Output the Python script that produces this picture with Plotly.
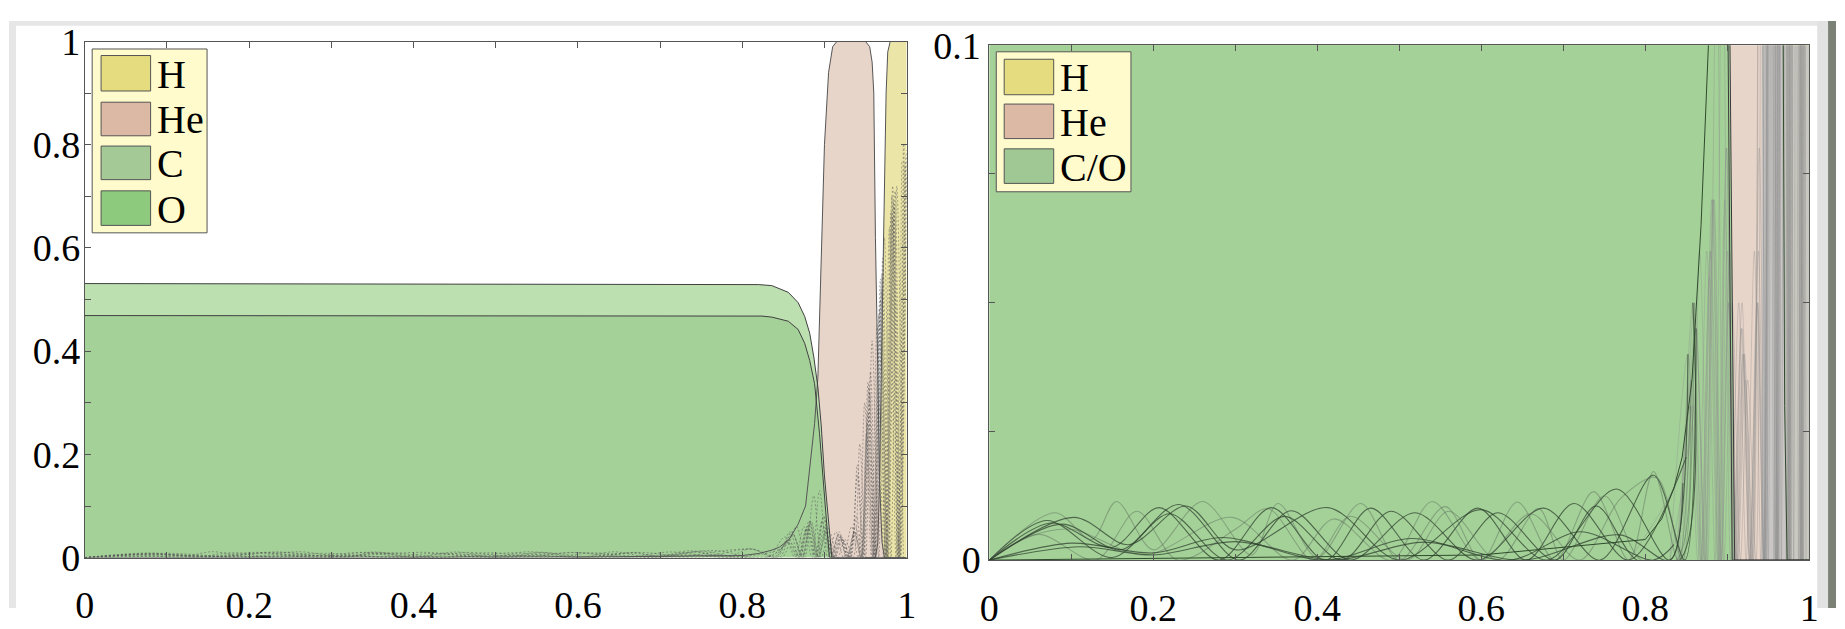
import plotly.graph_objects as go

# ---------------- data ----------------
# element mass fractions
c_x = [0.0, 0.80, 0.82, 0.836, 0.856, 0.868, 0.876, 0.882, 0.887, 0.892, 0.896, 0.900, 0.904, 0.909, 1.0]
c_y = [0.531, 0.530, 0.529, 0.527, 0.514, 0.494, 0.467, 0.435, 0.389, 0.33, 0.257, 0.158, 0.08, 0.0, 0.0]

o_x = [0.0, 0.80, 0.824, 0.836, 0.856, 0.868, 0.876, 0.882, 0.888, 0.894, 0.898, 0.902, 0.906, 1.0]
o_y = [0.469, 0.469, 0.468, 0.466, 0.458, 0.442, 0.415, 0.382, 0.337, 0.24, 0.16, 0.07, 0.0, 0.0]

he_x = [0.0, 0.3, 0.6, 0.8, 0.82, 0.835, 0.845, 0.857, 0.868, 0.877, 0.882, 0.888, 0.892, 0.896,
        0.900, 0.905, 0.910, 0.915, 0.950, 0.955, 0.958, 0.960, 0.962, 0.965, 0.967, 0.970, 0.973, 1.0]
he_y = [0.0, 0.0005, 0.001, 0.004, 0.008, 0.014, 0.02, 0.035, 0.065, 0.10, 0.17, 0.26, 0.35, 0.60,
        0.80, 0.94, 0.99, 1.0, 1.0, 0.99, 0.96, 0.90, 0.62, 0.35, 0.15, 0.03, 0.0, 0.0]

h_x = [0.95, 0.962, 0.965, 0.967, 0.969, 0.971, 0.973, 0.975, 0.977, 0.98, 1.0]
h_y = [0.0, 0.0, 0.03, 0.15, 0.35, 0.55, 0.75, 0.9, 0.98, 1.0, 1.0]

# oscillating mode curves: interior part (bumps) and outer part (tail)
wave_a_x = [0.000, 0.070, 0.150, 0.231, 0.305, 0.368, 0.440, 0.519, 0.595, 0.676, 0.745, 0.810, 0.848]
wave_a_y = [0, 0.0077, 0.0005, 0.0108, 0.0, 0.0096, 0.0, 0.0092, 0.0, 0.0101, 0.0, 0.0165, 0.0]
tail_a_x = [0.862, 0.872, 0.884, 0.893, 0.902, 0.912, 0.921, 0.931, 0.940, 0.947, 0.955, 0.962, 0.970, 0.977, 0.985, 0.992, 1.000]
tail_a_y = [0.045, 0.0, 0.07, 0.0, 0.05, 0.0, 0.04, 0.0, 0.16, 0.0, 0.32, 0.0, 0.55, 0.0, 0.68, 0.0, 0.74]

wave_b_x = [0.000, 0.075, 0.150, 0.207, 0.280, 0.344, 0.410, 0.465, 0.530, 0.596, 0.655, 0.713, 0.780]
wave_b_y = [0, 0.0072, 0.0025, 0.0102, 0.0, 0.0102, 0.0, 0.0101, 0.0, 0.0101, 0.0, 0.0110, 0.0]
tail_b_x = [0.850, 0.866, 0.876, 0.887, 0.896, 0.906, 0.916, 0.925, 0.935, 0.943, 0.950, 0.958, 0.966, 0.973, 0.981, 0.988, 0.996]
tail_b_y = [0.02, 0.06, 0.0, 0.12, 0.0, 0.05, 0.0, 0.035, 0.0, 0.22, 0.0, 0.42, 0.0, 0.62, 0.0, 0.72, 0.0]

wave_c_x = [0.000, 0.080, 0.125, 0.155, 0.200, 0.260, 0.320, 0.352, 0.400, 0.453, 0.500, 0.556, 0.600, 0.644,
            0.690, 0.737, 0.780, 0.810, 0.840]
wave_c_y = [0, 0.0092, 0.0040, 0.0114, 0.0020, 0.0114, 0.0010, 0.0110, 0.0005, 0.0110, 0.0, 0.0104, 0.0, 0.0113,
            0.0, 0.0133, 0.0, 0.0172, 0.0]
tail_c_x = [0.856, 0.868, 0.879, 0.889, 0.899, 0.909, 0.918, 0.928, 0.938, 0.945, 0.953, 0.960, 0.968, 0.975, 0.983, 0.990, 0.998]
tail_c_y = [0.035, 0.0, 0.06, 0.0, 0.08, 0.0, 0.045, 0.0, 0.06, 0.0, 0.28, 0.0, 0.50, 0.0, 0.66, 0.0, 0.76]

wave_d_x = [0.000, 0.048, 0.100, 0.190, 0.296, 0.370, 0.420, 0.490, 0.540, 0.600, 0.660, 0.720, 0.770, 0.814, 0.845]
wave_d_y = [0, 0.0045, 0.0060, 0.0010, 0.0083, 0.0, 0.0080, 0.0, 0.0114, 0.0, 0.0090, 0.0, 0.0120, 0.0160, 0.0]
tail_d_x = [0.860, 0.874, 0.882, 0.891, 0.900, 0.910, 0.919, 0.929, 0.937, 0.944, 0.952, 0.959, 0.967, 0.974, 0.982, 0.989, 0.997]
tail_d_y = [0.05, 0.0, 0.07, 0.0, 0.06, 0.0, 0.04, 0.0, 0.05, 0.0, 0.26, 0.0, 0.48, 0.0, 0.70, 0.0, 0.80]

wave_e_x = [0.000, 0.103, 0.170, 0.240, 0.300, 0.413, 0.500, 0.600, 0.680, 0.765, 0.830]
wave_e_y = [0, 0.0083, 0.0030, 0.0105, 0.0020, 0.0102, 0.0, 0.0098, 0.0, 0.0138, 0.0]
tail_e_x = [0.852, 0.864, 0.875, 0.885, 0.894, 0.904, 0.914, 0.923, 0.933, 0.941, 0.949, 0.957, 0.964, 0.972, 0.979, 0.987, 0.994]
tail_e_y = [0.04, 0.0, 0.06, 0.0, 0.13, 0.0, 0.05, 0.0, 0.06, 0.0, 0.30, 0.0, 0.45, 0.0, 0.64, 0.0, 0.77]

wave_f_x = [0.000, 0.060, 0.130, 0.180, 0.230, 0.300, 0.340, 0.395, 0.440, 0.510, 0.560, 0.620, 0.670, 0.700,
            0.750, 0.795, 0.838]
wave_f_y = [0, 0.0050, 0.0, 0.0095, 0.0, 0.0060, 0.0100, 0.0, 0.0085, 0.0, 0.0095, 0.0, 0.0100, 0.0,
            0.0125, 0.0, 0.0]
tail_f_x = [0.855, 0.867, 0.878, 0.888, 0.897, 0.907, 0.917, 0.927, 0.936, 0.944, 0.951, 0.959, 0.966, 0.974, 0.981, 0.989, 0.996]
tail_f_y = [0.03, 0.0, 0.055, 0.0, 0.07, 0.0, 0.045, 0.0, 0.05, 0.0, 0.24, 0.0, 0.47, 0.0, 0.67, 0.0, 0.80]

wave_g_x = [0.000, 0.088, 0.160, 0.220, 0.290, 0.360, 0.430, 0.490, 0.560, 0.620, 0.690, 0.740, 0.790, 0.842]
wave_g_y = [0, 0.0070, 0.0020, 0.0090, 0.0, 0.0085, 0.0, 0.0095, 0.0, 0.0092, 0.0, 0.0105, 0.0, 0.0]
tail_g_x = [0.858, 0.869, 0.880, 0.890, 0.899, 0.908, 0.918, 0.927, 0.937, 0.945, 0.953, 0.961, 0.968, 0.976, 0.983, 0.991, 0.998]
tail_g_y = [0.05, 0.0, 0.06, 0.0, 0.08, 0.0, 0.05, 0.0, 0.05, 0.0, 0.34, 0.0, 0.54, 0.0, 0.72, 0.0, 0.77]

low_a_x = [0.000, 0.100, 0.200, 0.284, 0.410, 0.515, 0.635, 0.721, 0.810]
low_a_y = [0, 0.0033, 0.0014, 0.0044, 0.0, 0.0042, 0.0, 0.0055, 0.0]
ltail_a_x = [0.835, 0.858, 0.870, 0.881, 0.892, 0.901, 0.911, 0.920, 0.930, 0.939, 0.946, 0.954, 0.961, 0.969, 0.976, 0.984, 0.991, 0.999]
ltail_a_y = [0.003, 0.03, 0.0, 0.07, 0.0, 0.05, 0.0, 0.04, 0.0, 0.08, 0.0, 0.33, 0.0, 0.52, 0.0, 0.69, 0.0, 0.78]

low_b_x = [0.000, 0.110, 0.200, 0.300, 0.420, 0.530, 0.650, 0.769, 0.830]
low_b_y = [0, 0.0026, 0.0010, 0.0036, 0.0, 0.0035, 0.0, 0.0049, 0.0]
ltail_b_x = [0.846, 0.861, 0.873, 0.883, 0.893, 0.903, 0.913, 0.922, 0.932, 0.940, 0.948, 0.956, 0.963, 0.971, 0.978, 0.986, 0.993, 1.000]
ltail_b_y = [0.015, 0.045, 0.0, 0.07, 0.0, 0.06, 0.0, 0.035, 0.0, 0.18, 0.0, 0.36, 0.0, 0.58, 0.0, 0.71, 0.0, 0.79]

# unresolved dense bundle of outer modes (right panel)
dense_x = [0.942, 1.0]
dense_y = [0.1, 0.1]

x_ticks = [0.0, 0.1, 0.2, 0.3, 0.4, 0.5, 0.6, 0.7, 0.8, 0.9, 1.0]
x_ticktext = ["0", "", "0.2", "", "0.4", "", "0.6", "", "0.8", "", "1"]
y1_ticks = [0.0, 0.1, 0.2, 0.3, 0.4, 0.5, 0.6, 0.7, 0.8, 0.9, 1.0]
y1_ticktext = ["0", "", "0.2", "", "0.4", "", "0.6", "", "0.8", "", "1"]
y2_ticks = [0.0, 0.025, 0.05, 0.075, 0.1]
y2_ticktext = ["0", "", "", "", "0.1"]

legend_left = ["H", "He", "C", "O"]
legend_right = ["H", "He", "C/O"]

# ---------------- styles ----------------
W, H = 1845, 629
COL_H = "#ece5a8"
COL_HE = "#e8d5c9"
COL_C = "#bde0b1"
COL_O = "#a4d198"
SERIF = "Liberation Serif, Times New Roman, serif"

waves = [
    (wave_a_x, wave_a_y, tail_a_x, tail_a_y, "dark"),
    (wave_b_x, wave_b_y, tail_b_x, tail_b_y, "dark"),
    (wave_c_x, wave_c_y, tail_c_x, tail_c_y, "light"),
    (wave_d_x, wave_d_y, tail_d_x, tail_d_y, "light"),
    (wave_e_x, wave_e_y, tail_e_x, tail_e_y, "dark"),
    (wave_f_x, wave_f_y, tail_f_x, tail_f_y, "light"),
    (wave_g_x, wave_g_y, tail_g_x, tail_g_y, "dark"),
    (low_a_x, low_a_y, ltail_a_x, ltail_a_y, "dark"),
    (low_b_x, low_b_y, ltail_b_x, ltail_b_y, "dark"),
]

fig = go.Figure()


def add_fill(x, y, color, xa, ya):
    fig.add_trace(go.Scatter(x=x, y=y, mode="lines", fill="tozeroy", fillcolor=color,
                             line=dict(width=0, color=color), xaxis=xa, yaxis=ya,
                             showlegend=False, hoverinfo="skip"))


def add_line(x, y, xa, ya, color, width=1.0, dash="solid", shape="linear"):
    fig.add_trace(go.Scatter(x=x, y=y, mode="lines",
                             line=dict(width=width, color=color, dash=dash, shape=shape,
                                       smoothing=0.9 if shape == "spline" else None),
                             xaxis=xa, yaxis=ya, showlegend=False, hoverinfo="skip"))


# ---- left panel: full abundance profile ----
add_fill(h_x, h_y, COL_H, "x", "y")
add_fill(he_x, he_y, COL_HE, "x", "y")
add_fill(c_x, c_y, COL_C, "x", "y")
add_fill(o_x, o_y, COL_O, "x", "y")
for wx, wy, tx, ty, kind in waves:
    add_line(wx + tx, wy + ty, "x", "y", "rgba(90,90,90,0.5)", width=1, dash="2px,2px", shape="spline")
add_line(h_x, h_y, "x", "y", "#555555")
add_line(he_x, he_y, "x", "y", "#555555")
add_line(c_x, c_y, "x", "y", "#404040")
add_line(o_x, o_y, "x", "y", "#404040")

# ---- right panel: zoom on the lowest 10 % ----
add_fill(h_x, h_y, COL_H, "x2", "y2")
add_fill(he_x, he_y, COL_HE, "x2", "y2")
add_fill(c_x, c_y, COL_O, "x2", "y2")
add_fill(o_x, o_y, COL_O, "x2", "y2")
add_fill(dense_x, dense_y, "rgba(196,196,196,0.88)", "x2", "y2")
for wx, wy, tx, ty, kind in waves:
    add_line([wx[-1]] + tx, [wy[-1]] + ty, "x2", "y2", "rgba(140,140,140,0.38)", width=0.9, shape="spline")
for wx, wy, tx, ty, kind in waves:
    col = "rgba(45,62,45,0.72)" if kind == "dark" else "rgba(85,100,85,0.42)"
    add_line(wx + tx[:1], wy + ty[:1], "x2", "y2", col, width=1.1, shape="spline")
add_line(he_x, he_y, "x2", "y2", "#2f4a2c")
add_line(c_x, c_y, "x2", "y2", "#3a3a3a")
add_line(o_x, o_y, "x2", "y2", "#3a3a3a")


def px(x):
    return x / W


def py(y):
    return 1 - y / H


axis_common = dict(showgrid=False, zeroline=False, ticks="inside", ticklen=6, tickwidth=1,
                   tickcolor="#555555", showline=True, linecolor="#555555", linewidth=1,
                   mirror="ticks", tickfont=dict(family=SERIF, size=38, color="black"),
                   fixedrange=True)

fig.update_layout(
    width=W, height=H, margin=dict(l=0, r=0, t=0, b=0),
    paper_bgcolor="white", plot_bgcolor="white", showlegend=False,
    xaxis=dict(domain=[px(76.5), px(906.5)], range=[0, 1], tickvals=x_ticks, ticktext=x_ticktext,
               anchor="y", ticklabelstandoff=14, **axis_common),
    yaxis=dict(domain=[py(575), py(22)], range=[0, 1], tickvals=y1_ticks, ticktext=y1_ticktext,
               anchor="x", ticklabelstandoff=-4, **axis_common),
    xaxis2=dict(domain=[px(990), px(1818)], range=[0, 1], tickvals=x_ticks, ticktext=x_ticktext,
                anchor="y2", ticklabelstandoff=14, **axis_common),
    yaxis2=dict(domain=[py(577.7), py(26)], range=[0, 0.1], tickvals=y2_ticks, ticktext=y2_ticktext,
                anchor="x2", ticklabelstandoff=0, **axis_common),
)

shapes = []
annotations = []


def rect(x0, y0, x1, y1, fill, line="#555555", lw=1, layer="above"):
    shapes.append(dict(type="rect", xref="paper", yref="paper", x0=px(x0), x1=px(x1),
                       y0=py(y1), y1=py(y0), fillcolor=fill,
                       line=dict(color=line, width=lw), layer=layer))


# screenshot frame
rect(0, 0, W, 5, "#e6e6e6", line="rgba(0,0,0,0)", lw=0)
rect(0, 0, 7, H, "#e6e6e6", line="rgba(0,0,0,0)", lw=0)
rect(1826, 0, 1837, H, "#e2e2e2", line="rgba(0,0,0,0)", lw=0)
rect(1837, 0, W, H, "#7b8175", line="rgba(0,0,0,0)", lw=0)

# left legend
rect(84, 30, 200, 227, "#fffbcc")
left_sw = [(37, 75, "#e4dc7e"), (87, 123, "#dcb9a4"), (134, 170, "#a4c996"), (182, 219, "#8dca7e")]
for (y0, y1, col), label in zip(left_sw, legend_left):
    rect(93, y0, 143, y1, col)
    annotations.append(dict(text=label, xref="paper", yref="paper", x=px(147), y=py((y0 + y1) / 2 + 1),
                            xanchor="left", yanchor="middle", showarrow=False,
                            font=dict(family=SERIF, size=40, color="black")))

# right legend
rect(997, 33, 1133, 183, "#fffbcc")
right_sw = [(41, 79, "#e4dc7e"), (89, 126, "#dcb9a4"), (137, 174, "#a0c894")]
for (y0, y1, col), label in zip(right_sw, legend_right):
    rect(1005, y0, 1055, y1, col)
    annotations.append(dict(text=label, xref="paper", yref="paper", x=px(1059), y=py((y0 + y1) / 2 + 1),
                            xanchor="left", yanchor="middle", showarrow=False,
                            font=dict(family=SERIF, size=40, color="black")))

fig.update_layout(shapes=shapes, annotations=annotations)
fig.write_html("out.html")
